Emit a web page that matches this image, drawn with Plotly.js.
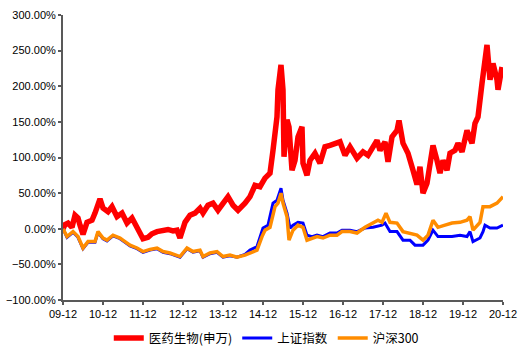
<!DOCTYPE html>
<html>
<head>
<meta charset="utf-8">
<script src="https://cdn.plot.ly/plotly-3.0.1.min.js"></script>
<style>html,body{margin:0;padding:0;background:#fff;}#chart{width:518px;height:357px;}</style>
</head>
<body>
<div id="chart"></div>
<script>
// x values: months since 2009-12
const tickVals = [0, 12, 24, 36, 48, 60, 72, 84, 96, 108, 120, 132];
const tickLabels = ["09-12", "10-12", "11-12", "12-12", "13-12", "14-12", "15-12", "16-12", "17-12", "18-12", "19-12", "20-12"];

const pharmaX = [0, 0.6, 1.5, 2.7, 3.6, 4.5, 5.1, 6, 7.2, 8.7, 9.6, 10.5, 11.1, 12, 13.5, 14.7, 16.2, 17.7, 19.2, 20.7, 22.2, 24, 25.5, 26.7, 28.2, 30, 31.5, 33, 34.2, 35.1, 36.6, 38.1, 39.6, 41.1, 42, 43.5, 45, 46.5, 48, 49.5, 51, 52.5, 54.6, 56.1, 57.6, 59.1, 60.6, 62.1, 63, 63.6, 64.2, 64.5, 65.4, 66, 66.3, 67.2, 67.8, 68.7, 69.6, 70.5, 71.7, 72, 73.2, 74.1, 75.6, 77.1, 78.6, 80.1, 82.2, 83.1, 84.6, 86.1, 88.2, 90, 91.5, 93, 94.2, 95.1, 96.6, 97.5, 98.7, 100.2, 100.8, 102, 103.5, 105, 106.2, 107.1, 108, 109.2, 110.1, 111, 112.2, 113.1, 114, 115.2, 116.1, 117.6, 118.5, 119.7, 121.2, 122.7, 123.6, 124.5, 125.7, 126.6, 127.2, 128.1, 129, 130.2, 130.5, 131.7];
const pharmaY = [0, 6, 8, 2, 19, 15, 5, -8, 9, 12, 22, 36, 42, 29, 24, 31, 17, 22, 8, 15, 2, -14, -12, -7, -4, -2, -1, -3, -2, -13, 9, 19, 22, 29, 22, 33, 36, 26, 36, 45, 33, 26, 36, 45, 61, 59, 71, 78, 110, 138, 157, 195, 230, 195, 101, 153, 143, 82, 96, 129, 143, 92, 75, 96, 106, 92, 115, 117, 120, 122, 103, 115, 99, 108, 103, 115, 124, 110, 122, 94, 129, 138, 152, 120, 106, 82, 62, 87, 50, 64, 92, 117, 96, 78, 96, 82, 106, 110, 120, 108, 138, 120, 148, 157, 204, 241, 258, 209, 232, 209, 195, 227];

const shX = [0, 1.2, 3, 4.5, 6, 7.5, 9.6, 10.5, 12, 13.2, 15, 17.1, 18.6, 20.1, 22.2, 24, 26.1, 28.2, 30, 32.1, 35.1, 37.2, 39, 41.1, 42, 44.1, 46.2, 48, 50.1, 52.2, 54.6, 56.1, 58.2, 59.1, 60, 61.5, 63, 64.2, 65.4, 66, 67.2, 68.1, 69, 70.5, 72, 73.2, 74.7, 76.2, 78, 80.1, 82.2, 83.7, 86.1, 88.2, 90.6, 93, 95.7, 96.6, 98.1, 100.2, 102, 104.1, 105.6, 108, 109.5, 111, 112.5, 114.6, 116.7, 119.1, 121.2, 122.1, 123, 125.1, 126, 126.6, 128.1, 130.2, 132];
const shY = [0, -12, -5, -12, -28, -19, -19, -5, -14, -17, -10, -14, -19, -24, -28, -33, -30, -28, -33, -35, -40, -28, -33, -31, -40, -35, -33, -40, -38, -40, -36, -30, -25, -11, 1, 5, 36, 40, 57, 40, 22, 1, 5, 9, 8, -9, -11, -9, -11, -6, -6, -2, -2, -4, 1, 2, 5, 8, -4, -4, -16, -16, -23, -23, -16, -2, -11, -11, -11, -9, -11, -4, -18, -13, -4, 5, 1, 1, 5];

const hsX = [0, 1.2, 3, 4.5, 6, 7.5, 9.6, 10.5, 12, 13.2, 15, 17.1, 18.6, 20.1, 22.2, 24, 26.1, 28.2, 30, 32.1, 35.1, 37.2, 39, 41.1, 42, 44.1, 46.2, 48, 50.1, 52.2, 54.6, 56.1, 58.2, 59.7, 60.6, 62.1, 63.6, 64.5, 65.4, 66, 67.2, 67.8, 69, 70.5, 72, 73.2, 74.7, 76.2, 78, 80.1, 82.2, 83.7, 86.1, 88.2, 90.6, 93, 94.5, 95.7, 96.9, 98.1, 100.2, 102, 104.1, 106.2, 108, 109.5, 111, 112.5, 114.6, 116.7, 119.1, 121.2, 122.1, 123, 125.1, 126, 128.1, 130.2, 132];
const hsY = [0, -11, -4, -11, -27, -18, -18, -4, -13, -16, -9, -13, -18, -23, -27, -32, -29, -27, -32, -34, -39, -27, -32, -30, -39, -34, -32, -39, -37, -40, -37, -34, -30, -11, -2, 2, 31, 36, 50, 36, 17, -16, -2, 5, 2, -16, -13, -11, -13, -9, -9, -4, -4, -6, 2, 8, 12, 9, 22, 9, 8, -4, -6, -9, -16, -9, 12, 2, 5, 8, 9, 12, 17, -2, 9, 31, 31, 36, 45];

const seriesNames = ["医药生物(申万)", "上证指数", "沪深300"];

const traces = [
  {x: pharmaX, y: pharmaY, name: seriesNames[0], type: "scatter", mode: "lines",
   line: {color: "#FF0000", width: 5.5}},
  {x: shX, y: shY, name: seriesNames[1], type: "scatter", mode: "lines",
   line: {color: "#0000FF", width: 3}},
  {x: hsX, y: hsY, name: seriesNames[2], type: "scatter", mode: "lines",
   line: {color: "#FF8C00", width: 3.5}}
];

const axisFont = {family: "Arial, 'Liberation Sans', sans-serif", size: 11, color: "#000"};

const layout = {
  width: 518, height: 357,
  margin: {l: 63, r: 15, t: 15, b: 57, autoexpand: false},
  paper_bgcolor: "#fff", plot_bgcolor: "#fff",
  showlegend: true,
  legend: {orientation: "h", xref: "container", yref: "container", x: 0.21, xanchor: "left", y: 0.052, yanchor: "middle",
    font: {family: "'Noto Sans CJK SC', sans-serif", size: 12.5, color: "#000"},
    itemwidth: 30, tracegroupgap: 0, bgcolor: "rgba(0,0,0,0)"},
  xaxis: {range: [0, 132], tickvals: tickVals, ticktext: tickLabels,
    showgrid: false, zeroline: false, showline: true, linecolor: "#595959", linewidth: 2,
    ticks: "outside", ticklen: 3, tickwidth: 2, tickcolor: "#595959",
    tickfont: axisFont, fixedrange: true},
  yaxis: {range: [-100, 300], dtick: 50, tick0: 0, tickformat: ".2f", ticksuffix: "%",
    showgrid: false, zeroline: false, showline: true, linecolor: "#595959", linewidth: 2,
    ticks: "outside", ticklen: 3, tickwidth: 2, tickcolor: "#595959",
    tickfont: axisFont, fixedrange: true}
};

Plotly.newPlot("chart", traces, layout, {displayModeBar: false, staticPlot: true});
</script>
</body>
</html>
